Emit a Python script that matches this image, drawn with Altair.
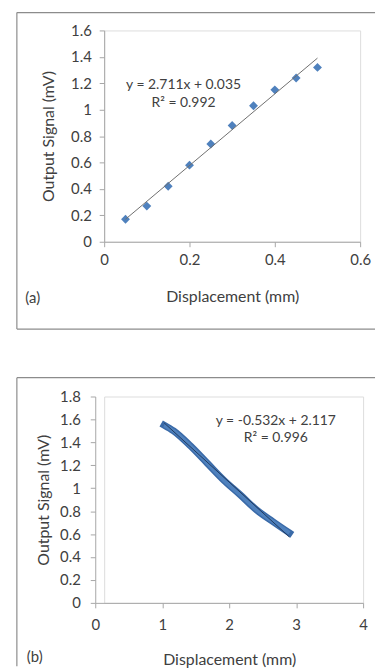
import altair as alt
import pandas as pd

# ---------------- data ----------------
disp_a = [0.05, 0.10, 0.15, 0.20, 0.25, 0.30, 0.35, 0.40, 0.45, 0.50]
signal_a = [0.17, 0.27, 0.42, 0.58, 0.74, 0.88, 1.03, 1.15, 1.24, 1.32]
slope_a, icpt_a = 2.711, 0.035
eq_a = "y = 2.711x + 0.035"
r2_a = "R² = 0.992"

disp_b = [1.03, 1.17, 1.42, 1.67, 1.92, 2.17, 2.41, 2.65, 2.90]
signal_b = [1.55, 1.50, 1.37, 1.22, 1.07, 0.94, 0.81, 0.71, 0.61]
slope_b, icpt_b = -0.532, 2.117
eq_b = "y = -0.532x + 2.117"
r2_b = "R² = 0.996"

x_ticks_a = [0, 0.2, 0.4, 0.6]
y_ticks_a = [0, 0.2, 0.4, 0.6, 0.8, 1.0, 1.2, 1.4, 1.6]
x_ticks_b = [0, 1, 2, 3, 4]
y_ticks_b = [0, 0.2, 0.4, 0.6, 0.8, 1.0, 1.2, 1.4, 1.6, 1.8]

x_title = "Displacement (mm)"
y_title = "Output Signal (mV)"

FONT = "Lato"
TXT = "#404040"
AX = "#a6a6a6"
BLUE = "#4f81bd"
BORDER = "#8c8c8c"


def axis(values, lab_pad, title_pad, offset=0):
    return alt.Axis(values=values, format="~g", grid=False, domainColor=AX,
                    tickColor=AX, tickSize=5, labelFont=FONT, labelFontSize=15,
                    labelColor=TXT, labelOverlap=False, labelFlush=False,
                    titleFont=FONT, titleFontSize=16,
                    titleFontWeight="normal", titleColor=TXT,
                    labelPadding=lab_pad, titlePadding=title_pad, offset=offset)


def panel(xs, ys, slope, icpt, xt, yt, xdom, ydom, w, h, shift, kind, eq, r2,
          eq_pos, tag, tag_pos, border, xpads, ypads, bottom_line):
    df = pd.DataFrame({"x": xs, "y": ys})
    lo, hi = min(xs), max(xs)
    trend = pd.DataFrame({"x": [lo, hi], "y": [slope * lo + icpt, slope * hi + icpt]})
    # 'shift' moves the x origin left of the group origin (both panels share one origin)
    xenc = alt.X("x:Q", scale=alt.Scale(domain=xdom, nice=False, zero=False,
                                        range=[-shift, w - shift]),
                 axis=axis(xt, *xpads), title=x_title)
    yenc = alt.Y("y:Q", scale=alt.Scale(domain=ydom, nice=False),
                 axis=axis(yt, *ypads, offset=shift), title=y_title)
    layers = []
    if kind == "points":
        layers.append(alt.Chart(df).mark_point(shape="diamond", filled=True, size=80,
                                               color=BLUE, opacity=1)
                      .encode(x=xenc, y=yenc))
        layers.append(alt.Chart(trend).mark_line(color="#6e6e6e", strokeWidth=1)
                      .encode(x=xenc, y=yenc))
    else:
        layers.append(alt.Chart(df).mark_line(color="#3a6aa8", strokeWidth=7,
                                              interpolate="monotone", strokeCap="square")
                      .encode(x=xenc, y=yenc))
        layers.append(alt.Chart(df).mark_line(color=BLUE, strokeWidth=4,
                                              interpolate="monotone")
                      .encode(x=xenc, y=yenc))
        layers.append(alt.Chart(trend).mark_line(color="#1f3a5f", strokeWidth=1)
                      .encode(x=xenc, y=yenc))
    base = alt.Chart(pd.DataFrame({"k": [0]}))
    txt = dict(font=FONT, color=TXT, align="center", baseline="middle")
    layers.append(base.mark_text(fontSize=14, **txt)
                  .encode(x=alt.value(eq_pos[0]), y=alt.value(eq_pos[1]), text=alt.value(eq)))
    layers.append(base.mark_text(fontSize=14, **txt)
                  .encode(x=alt.value(eq_pos[0]), y=alt.value(eq_pos[2]), text=alt.value(r2)))
    layers.append(base.mark_text(fontSize=15, **txt)
                  .encode(x=alt.value(tag_pos[0]), y=alt.value(tag_pos[1]), text=alt.value(tag)))
    left, right, top, bottom = border
    rule = base.mark_rule(color=BORDER, strokeWidth=1.2)
    layers.append(rule.encode(x=alt.value(left), y=alt.value(top), y2=alt.value(bottom)))
    layers.append(rule.encode(x=alt.value(left), x2=alt.value(right), y=alt.value(top)))
    if bottom_line:
        layers.append(rule.encode(x=alt.value(left), x2=alt.value(right), y=alt.value(bottom)))
    return alt.layer(*layers).properties(width=w - shift, height=h)


# both panels: plot group origin at x=103 on the page
# panel (a): x origin at 103, top at 26
pa = panel(disp_a, signal_a, slope_a, icpt_a, x_ticks_a, y_ticks_a, [0, 0.6], [0, 1.6],
           258, 213, 0, "points", eq_a, r2_a, (80, 55, 73), "(a)", (-72, 270),
           (-88, 273, -18, 301), (6, 21), (8, 14), True)
# panel (b): x origin at 94 (9 px left of the group origin), top at 397
pb = panel(disp_b, signal_b, slope_b, icpt_b, x_ticks_b, y_ticks_b, [0, 4], [0, 1.8],
           270, 208, 9, "line", eq_b, r2_b, (173, 25, 42), "(b)", (-70, 263),
           (-88, 273, -19, 272), (10, 19), (10, 8), False)

chart = alt.vconcat(pa, pb, spacing=45).properties(
    padding={"left": 15, "top": 8, "right": 0, "bottom": 0}
).configure_view(stroke=None).configure(background="white")

chart.save("out.html", embed_options={"renderer": "svg", "actions": False})
